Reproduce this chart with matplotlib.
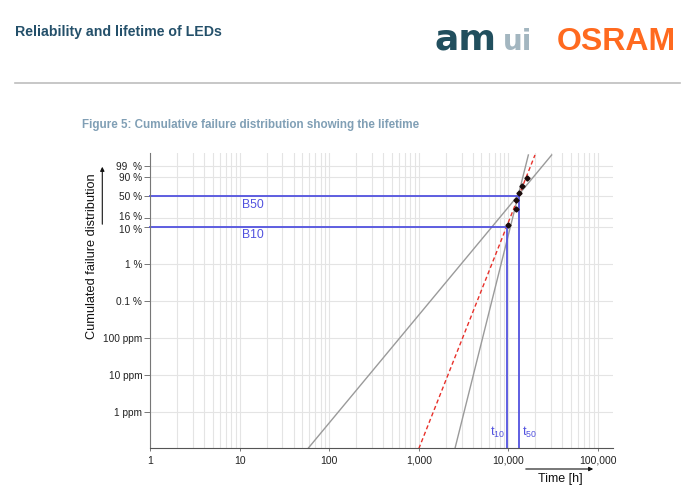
import numpy as np
import matplotlib
matplotlib.use('Agg')
import matplotlib.pyplot as plt
from matplotlib.lines import Line2D
from matplotlib.transforms import ScaledTranslation

plt.rcParams['font.family'] = ['Liberation Sans', 'DejaVu Sans']

# y ticks (cumulated failure fraction) and labels
tick_F = [1e-6, 1e-5, 1e-4, 1e-3, 0.01, 0.10, 0.16, 0.50, 0.90, 0.99]
tick_lab = ['1 ppm', '10 ppm', '100 ppm', '0.1 %', '1 %', '10 %', '16 %', '50 %', '90 %', '99  %']
# x ticks
tick_t = [1, 10, 100, 1000, 10000, 100000]
tick_t_lab = ['1', '10', '100', '1,000', '10,000', '100,000']

# failure data (time in h, median rank)
fail_time = [9970, 12100, 12200, 13100, 14300, 16000]
fail_F = [0.109, 0.266, 0.422, 0.578, 0.734, 0.891]

# fitted weibull line and the two bounds (end points)
fit_time = [1000, 19800]
fit_F = [1e-7, 0.9999]
bound1_time = [57.8, 30400]
bound1_F = [1e-7, 0.9999]
bound2_time = [2530, 16700]
bound2_F = [1e-7, 0.9999]

t10 = 9570
t50 = 13000


def weib(F):
    F = np.asarray(F, dtype=float)
    with np.errstate(all='ignore'):
        return np.log(-np.log(1 - F))


def weib_inv(u):
    u = np.asarray(u, dtype=float)
    return 1 - np.exp(-np.exp(u))


W, H = 700, 497
fig = plt.figure(figsize=(7, 4.97), dpi=100)

# header
fig.text(15/W, 1-32/H, 'Reliability and lifetime of LEDs', fontsize=10.2,
         fontweight='bold', color='#24506a', va='center')
fig.text(435/W, 1-50/H, 'am', fontsize=26, fontweight='bold', color='#214f5e',
         family='DejaVu Sans', va='baseline')
fig.text(503/W, 1-50/H, 'ui', fontsize=20, fontweight='bold', color='#a3b6c0',
         family='DejaVu Sans', va='baseline')
fig.text(557/W, 1-50/H, 'OSRAM', fontsize=23, fontweight='bold', color='#ff6a1f',
         va='baseline')
fig.add_artist(Line2D([15/W, 680/W], [1-83/H, 1-83/H], color='#bdbdbd', lw=1.2))
fig.text(82/W, 1-125/H, 'Figure 5: Cumulative failure distribution showing the lifetime',
         fontsize=8.4, fontweight='bold', color='#809fb5', va='center')

ax = fig.add_axes([150/W, 1-448/H, 463/W, 295/H])
ax.set_xscale('log')
ax.set_yscale('function', functions=(weib, weib_inv))
y_min, y_max = 1.04e-7, 0.99997
ax.set_xlim(1, 1.47e5)
ax.set_ylim(y_min, y_max)

ax.set_yticks(tick_F)
ax.set_yticklabels(tick_lab)
ax.yaxis.set_minor_locator(matplotlib.ticker.NullLocator())
ax.set_xticks(tick_t)
ax.set_xticklabels(tick_t_lab)
ax.xaxis.set_minor_locator(matplotlib.ticker.LogLocator(base=10, subs=np.arange(2, 10)))
ax.xaxis.set_minor_formatter(matplotlib.ticker.NullFormatter())

ax.grid(True, which='both', axis='x', color='#e4e4e4', lw=0.8)
ax.grid(True, which='major', axis='y', color='#e4e4e4', lw=0.8)
ax.set_axisbelow(True)
for s in ['top', 'right']:
    ax.spines[s].set_visible(False)
ax.spines['left'].set_color('#777777')
ax.spines['bottom'].set_color('#555555')
ax.tick_params(axis='y', length=4.5, width=0.7, color='#777777', pad=1,
               labelsize=7.3, labelcolor='#222222')
ax.tick_params(axis='x', which='major', length=2.5, width=0.7, color='#777777',
               pad=3, labelsize=7.5, labelcolor='#222222')
ax.tick_params(axis='x', which='minor', length=0)

# 16 % and 10 % sit very close: nudge them apart a little
ylabs = ax.get_yticklabels()
ylabs[6].set_transform(ylabs[6].get_transform() + ScaledTranslation(0, 1.8/72, fig.dpi_scale_trans))
ylabs[5].set_transform(ylabs[5].get_transform() + ScaledTranslation(0, -1.8/72, fig.dpi_scale_trans))

blue = '#5252df'
ax.plot(bound1_time, bound1_F, color='#9a9a9a', lw=1.0)
ax.plot(bound2_time, bound2_F, color='#9a9a9a', lw=1.0)
ax.plot(fit_time, fit_F, color='#e8302a', lw=1.0, dashes=(3, 2))
ax.plot([1, t50, t50], [0.5, 0.5, y_min], color=blue, lw=1.3, clip_on=False)
ax.plot([1, t10, t10], [0.1, 0.1, y_min], color=blue, lw=1.3, clip_on=False)
ax.plot(fail_time, fail_F, 'D', color='#1a0a0a', ms=2.6, zorder=5)

ax.annotate('B50', xy=(10.55, 0.5), xytext=(0, -6), textcoords='offset points',
            color=blue, fontsize=8.8, ha='left', va='center')
ax.annotate('B10', xy=(10.55, 0.1), xytext=(0, -6), textcoords='offset points',
            color=blue, fontsize=8.8, ha='left', va='center')
ax.annotate(r'$\mathregular{t_{10}}$', xy=(t10, y_min), xytext=(-1.5, 8.6),
            textcoords='offset points', color=blue, fontsize=9, ha='right', va='baseline')
ax.annotate(r'$\mathregular{t_{50}}$', xy=(t50, y_min), xytext=(2.5, 8.6),
            textcoords='offset points', color=blue, fontsize=9, ha='left', va='baseline')

# axis labels with arrows
fig.text(92/W, 1-256/H, 'Cumulated failure distribution', rotation=90,
         fontsize=9.2, ha='center', va='center', color='#111111')
fig.add_artist(matplotlib.patches.FancyArrowPatch(
    (102.3/W, 1-227/H), (102.3/W, 1-164/H), transform=fig.transFigure,
    arrowstyle='-|>', mutation_scale=6, lw=0.8, color='#111111'))
fig.text(560/W, 1-479/H, 'Time [h]', fontsize=9, ha='center', va='center',
         color='#111111')
fig.add_artist(matplotlib.patches.FancyArrowPatch(
    (523/W, 1-469/H), (596/W, 1-469/H), transform=fig.transFigure,
    arrowstyle='-|>', mutation_scale=6, lw=0.8, color='#111111'))

plt.savefig('out.png', dpi=100)
